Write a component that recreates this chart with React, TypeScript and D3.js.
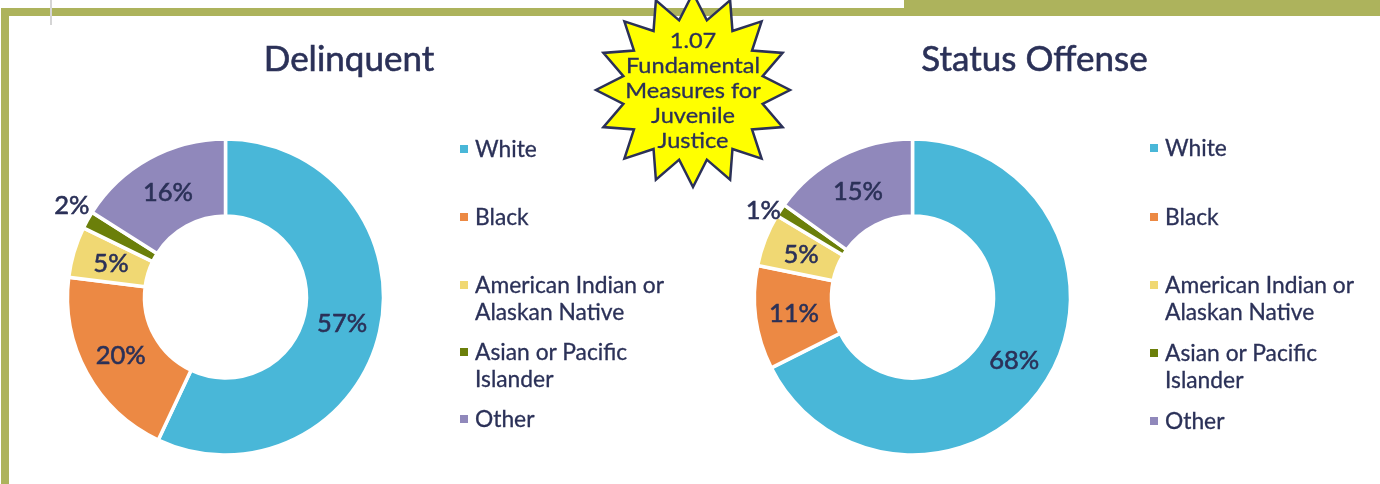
import React from 'react';
import * as d3 from 'd3';

const categories = ['White', 'Black', 'American Indian or Alaskan Native', 'Asian or Pacific Islander', 'Other'];
const legendLines = [['White'], ['Black'], ['American Indian or', 'Alaskan Native'], ['Asian or Pacific', 'Islander'], ['Other']];
const colors = ['#49b7d8', '#ec8944', '#f0d873', '#6b7f0a', '#9088bb'];

// slice shares, printed rounded
const delinquentValues = [57, 20, 5.2, 1.8, 16];
const statusValues = [67.6, 10.6, 5.4, 1.3, 15.1];

const starLines = ['1.07', 'Fundamental', 'Measures for', 'Juvenile', 'Justice'];

const INK = '#2b3158';
const OLIVE = '#adb35c';
const FONT = 'Lato, "Open Sans", sans-serif';

const pct = (v: number) => `${Math.round(v)}%`;

// regular Lato is a little thin next to the original face, so text gets a hairline stroke
const inkStyle = (w: number) => ({ fontFamily: FONT, stroke: INK, strokeWidth: w });

function Donut({ cx, cy, title, titleX, values, legendX, legendYs, outsideNudge }) {
  const outer = 158;
  const inner = 81;
  const pie = d3.pie<number>().sort(null).value((d) => d);
  const arc = d3.arc<d3.PieArcDatum<number>>().innerRadius(inner).outerRadius(outer);
  const outsideArc = d3.arc<d3.PieArcDatum<number>>().innerRadius(176).outerRadius(176);
  const slices = pie(values);

  return (
    <g style={{ filter: 'blur(0.4px)' }}>
      <text x={titleX} y={71} fontSize={35} fill={INK} textAnchor="middle" style={inkStyle(0.6)}>
        {title}
      </text>
      <g transform={`translate(${cx},${cy})`}>
        {slices.map((s, i) => (
          <path key={categories[i]} d={arc(s) as string} fill={colors[i]} stroke="#fff" strokeWidth={3.5} />
        ))}
        {slices.map((s, i) => {
          // the thin slice keeps its label outside the ring
          const [x, y] = i === 3 ? outsideArc.centroid(s) : arc.centroid(s);
          const dx = i === 3 ? outsideNudge[0] : 0;
          const dy = i === 3 ? outsideNudge[1] : 0;
          return (
            <text key={i} x={x + dx} y={y + dy} dy="0.36em" fontSize={25.5} fill={INK} textAnchor="middle" style={inkStyle(0.6)}>
              {pct(values[i])}
            </text>
          );
        })}
      </g>
      {legendLines.map((lines, i) => (
        <g key={categories[i]} transform={`translate(${legendX},${legendYs[i]})`}>
          <rect x={0} y={-4} width={8} height={8} fill={colors[i]} />
          {lines.map((line, j) => (
            <text key={line} x={15} y={j * 27} dy="0.36em" fontSize={22.8} fill={INK} style={inkStyle(0.3)}>
              {line}
            </text>
          ))}
        </g>
      ))}
    </g>
  );
}

function Star({ cx, cy }) {
  const spikes = 16;
  const line = d3.lineRadial<number>()
    .angle((_, i) => (i * Math.PI) / spikes)
    .radius((_, i) => (i % 2 === 0 ? 97 : 71))
    .curve(d3.curveLinearClosed);
  const pts = d3.range(spikes * 2);

  return (
    <g transform={`translate(${cx},${cy})`}>
      <path d={line(pts) as string} fill="#ffff00" stroke={INK} strokeWidth={2.5} strokeLinejoin="miter" />
      {/* the original face is wider than Lato, hence the horizontal stretch */}
      {starLines.map((t, i) => (
        <text key={t} transform={`translate(0,${-49 + i * 25}) scale(1.15,1)`} dy="0.36em" fontSize={20.5} fill={INK} textAnchor="middle" style={inkStyle(0.3)}>
          {t}
        </text>
      ))}
    </g>
  );
}

export default function App() {
  return (
    <svg width={1380} height={484} style={{ position: 'absolute', left: 0, top: 0, background: '#fff' }}>
      <rect x={904} y={0} width={476} height={16} fill={OLIVE} />
      <rect x={1} y={8} width={1379} height={8} fill={OLIVE} />
      <rect x={1} y={8} width={8} height={476} fill={OLIVE} />
      <rect x={50} y={0} width={2} height={25} fill="#d5d5d5" />
      <Donut cx={225.5} cy={297} title="Delinquent" titleX={349} values={delinquentValues} legendX={460} legendYs={[149, 217, 285, 352, 419]} outsideNudge={[0, -6]} />
      <Donut cx={912.5} cy={297} title="Status Offense" titleX={1034.5} values={statusValues} legendX={1150} legendYs={[148, 217, 285, 353, 421]} outsideNudge={[-2, 9]} />
      <Star cx={693} cy={90} />
    </svg>
  );
}
